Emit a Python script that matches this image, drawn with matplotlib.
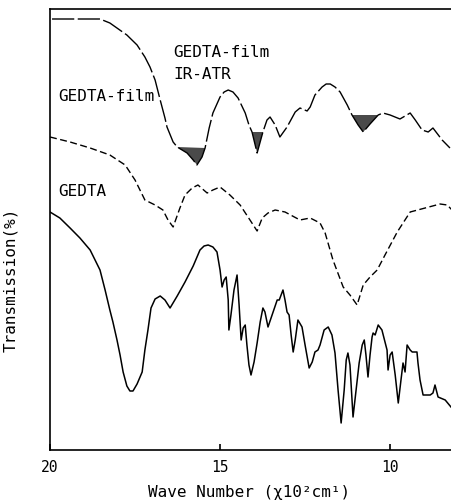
import numpy as np
import matplotlib
matplotlib.use("Agg")
import matplotlib.pyplot as plt

plt.rcParams['font.family'] = ['DejaVu Sans Mono', 'DejaVu Sans']

# wave number (x10^2 cm-1) and transmission (arbitrary %)
atr_wn = [19.94, 19.26, 18.53, 18.24, 17.74, 17.44, 17.21, 17.06, 16.91, 16.76,
          16.62, 16.56, 16.38, 16.26, 15.97, 15.79, 15.68, 15.53, 15.44, 15.32,
          15.21, 15.0, 14.88, 14.76, 14.62, 14.47, 14.26, 14.15, 14.06, 13.91,
          13.74, 13.62, 13.53, 13.38, 13.24, 13.03, 12.79, 12.65, 12.44, 12.35,
          12.21, 12.0, 11.88, 11.76, 11.62, 11.47, 11.26, 11.12, 10.94, 10.79,
          10.59, 10.35, 10.21, 10.0, 9.71, 9.41, 9.26, 9.06, 8.88, 8.74,
          8.47, 8.24]
atr_t = [107.75, 107.75, 107.75, 106.75, 103.75, 101.25, 98.25, 95.75, 92.5, 87.5,
         83, 80.75, 77, 75.75, 74.25, 72.5, 71.25, 73.25, 75.5, 80.5,
         84.25, 88.25, 89.5, 90, 89.5, 88, 84.25, 81.25, 79.5, 74.25,
         79.5, 82.5, 83.25, 81.25, 78.25, 80.75, 84.5, 85.5, 84.75, 85.75,
         88.75, 90.75, 91.5, 91.5, 90.75, 89.5, 86.25, 83.75, 81.25, 79.5,
         81.5, 83.75, 84.25, 83.75, 82.75, 84.25, 82.5, 80, 79.5, 80.5,
         77.5, 75.5]
# shaded absorption bands on the ATR trace
atr_bands = [(16.26, 15.44), (14.06, 13.74), (11.12, 10.35)]

film_wn = [20.0, 19.41, 18.82, 18.24, 17.79, 17.5, 17.21, 16.91, 16.68, 16.53,
           16.38, 16.18, 16.03, 15.82, 15.65, 15.38, 15.21, 15.0, 14.71, 14.41,
           14.12, 13.91, 13.76, 13.59, 13.38, 13.09, 12.65, 12.35, 12.06, 11.91,
           11.68, 11.38, 11.18, 10.97, 10.79, 10.59, 10.38, 10.15, 9.79, 9.41,
           8.97, 8.53, 8.32, 8.18]
film_t = [78.25, 77, 75.5, 73.75, 71.25, 67.5, 62.5, 61.25, 60, 57.5,
          55.75, 60.5, 63.75, 65.5, 66.25, 64.25, 65, 65.75, 63.75, 61.25,
          57.5, 54.75, 58, 59.25, 60, 59.5, 57.5, 58, 56.75, 54.25,
          47.5, 40.75, 38.75, 36.25, 41.25, 43.25, 45, 48.75, 54.5, 59.5,
          60.5, 61.5, 61.25, 60]

gedta_wn = [20.0, 19.71, 19.41, 19.12, 18.82, 18.53, 18.38, 18.24, 18.15, 18.03,
            17.94, 17.85, 17.74, 17.65, 17.56, 17.44, 17.29, 17.21, 17.12, 17.03,
            16.91, 16.76, 16.62, 16.47, 16.26, 16.03, 15.79, 15.59, 15.47, 15.35,
            15.21, 15.09, 15.0, 14.94, 14.88, 14.82, 14.76, 14.74, 14.68, 14.59,
            14.5, 14.44, 14.38, 14.32, 14.26, 14.21, 14.15, 14.09, 14.0, 13.91,
            13.82, 13.74, 13.68, 13.59, 13.47, 13.32, 13.26, 13.15, 13.09, 13.03,
            12.97, 12.91, 12.85, 12.79, 12.71, 12.59, 12.5, 12.38, 12.29, 12.21,
            12.12, 12.06, 11.94, 11.82, 11.71, 11.62, 11.53, 11.44, 11.35, 11.29,
            11.24, 11.18, 11.09, 11.0, 10.91, 10.82, 10.76, 10.71, 10.65, 10.59,
            10.53, 10.5, 10.44, 10.35, 10.24, 10.09, 10.06, 10.0, 9.94, 9.85,
            9.76, 9.68, 9.62, 9.56, 9.5, 9.41, 9.35, 9.21, 9.18, 9.12,
            9.03, 8.82, 8.74, 8.68, 8.59, 8.38, 8.21]
gedta_t = [59.5, 58, 55.5, 53, 50, 45, 40, 35, 32, 27.5,
           23.75, 19.5, 16, 14.75, 14.75, 16.5, 19.5, 25, 30, 35.5,
           37.75, 38.5, 37.5, 35.5, 38.5, 42, 46, 50, 51, 51.25,
           50.75, 49.5, 45, 40.75, 42.5, 43.25, 37.5, 30, 33.75, 40,
           43.75, 36.25, 27.5, 30.5, 31.25, 26.25, 21.25, 18.75, 22, 26.75,
           32, 35.5, 34.5, 30.75, 33.75, 37.5, 37.5, 40, 37.5, 34.5,
           33.75, 28.75, 24.5, 27.5, 32.5, 30.75, 26.25, 20.5, 22, 24.5,
           25, 26.25, 30, 30.75, 28.75, 24.25, 15, 6.75, 15, 22.5,
           24.25, 21.25, 8.25, 15, 21.75, 26.25, 27.5, 23.75, 18.25, 23.75,
           28.25, 29.25, 28.75, 31.25, 30, 25, 20, 23.75, 24.5, 18.75,
           11.75, 17.5, 21.75, 19.5, 26.25, 25, 24.5, 24.5, 21.75, 17.5,
           13.75, 13.75, 14.25, 16.25, 13.25, 12.5, 10.75]

fig = plt.figure(figsize=(4.52, 5.01), dpi=100)
ax = fig.add_axes([50 / 452, 51 / 501, 402 / 452, 441 / 501])

ax.plot(atr_wn, atr_t, color='black', lw=1.0, ls=(0, (16, 2.5)))
aw = np.array(atr_wn)
at = np.array(atr_t)
for hi, lo in atr_bands:
    m = (aw <= hi) & (aw >= lo)
    ax.fill(aw[m], at[m], color='#4a4a4a', lw=0)

ax.plot(film_wn, film_t, color='black', lw=1.0, ls=(0, (5, 2.5)))
ax.plot(gedta_wn, gedta_t, color='black', lw=1.1)

ax.text(16.38, 99.25, 'GEDTA-film', fontsize=11.5, va='center')
ax.text(16.38, 93.75, 'IR-ATR', fontsize=11.5, va='center')
ax.text(19.75, 88.25, 'GEDTA-film', fontsize=11.5, va='center')
ax.text(19.75, 64.5, 'GEDTA', fontsize=11.5, va='center')

ax.set_xlim(20, 8.18)
ax.set_ylim(0, 110.25)
ax.set_xticks([20, 15, 10])
ax.set_yticks([])
ax.tick_params(axis='x', direction='in', length=4, width=1.2, pad=7,
               labelsize=10.5)
ax.spines['right'].set_visible(False)
for s in ['left', 'top', 'bottom']:
    ax.spines[s].set_linewidth(1.2)

fig.text(249 / 452, 8 / 501, 'Wave Number (χ10²cm¹)', fontsize=11.5,
         ha='center', va='center')
fig.text(11 / 452, 221 / 501, 'Transmission(%)', fontsize=11.5,
         rotation=90, ha='center', va='center')

fig.savefig('out.png', dpi=100)
